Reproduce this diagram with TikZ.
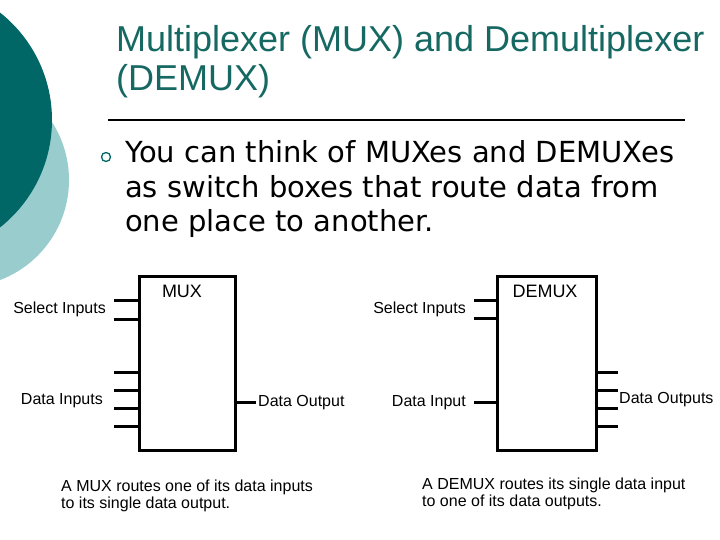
\documentclass[tikz,border=0pt]{standalone}
\usepackage{fontspec}
\setmainfont{Liberation Sans}
\newfontfamily\bodyfont{DejaVu Sans}
\definecolor{darkteal}{RGB}{0,102,102}
\definecolor{lightteal}{RGB}{153,204,204}
\definecolor{titleteal}{RGB}{22,104,98}
\tikzset{
  box/.style={draw, line width=3pt, minimum height=174pt, inner sep=0pt},
  pin/.style={line width=3pt},
  lbl/.style={inner sep=0pt, font=\fontsize{16}{19}\selectfont},
  boxname/.style={inner sep=0pt, font=\fontsize{18}{21}\selectfont},
  titletext/.style={inner sep=0pt, text=titleteal, font=\fontsize{36}{40}\selectfont},
  bodytext/.style={inner sep=0pt, font=\bodyfont\fontsize{29}{34}\selectfont}
}
\begin{document}
\begin{tikzpicture}[x=1pt, y=-1pt]
        \useasboundingbox (0, 0) rectangle (720, 540);
        \clip (0, 0) rectangle (720, 540);
        % circles at the left edge
        \fill[lightteal] (-38, 180) circle (107pt);
        \fill[darkteal] (-85, 120) circle (137pt);
        % title and text
        \node[titletext, anchor=base west] (title1) at (116, 52) {Multiplexer (MUX) and Demultiplexer};
        \node[titletext, anchor=base west] (title2) at (116, 91) {(DEMUX)};
        \draw[line width=1.4pt] (108, 120) -- (685, 120);
        \draw[darkteal, line width=1.3pt] (106, 157) circle (4.5pt);
        \node[bodytext, anchor=base west] (body1) at (125, 163) {You can think of MUXes and DEMUXes};
        \node[bodytext, anchor=base west] (body2) at (125, 198) {as switch boxes that route data from};
        \node[bodytext, anchor=base west] (body3) at (125, 232) {one place to another.};
        % MUX
        \node[box, minimum width=96pt] (mux) at (187, 363) {};
        \node[boxname, anchor=base] (muxname) at (182, 297) {MUX};
        \foreach \y [count=\i] in {300, 319} {
            \coordinate (ms\i) at (114, \y);
            \draw[pin] (ms\i) -- (ms\i -| mux.west);
        }
        \foreach \y [count=\i] in {372, 390, 408, 426} {
            \coordinate (md\i) at (114, \y);
            \draw[pin] (md\i) -- (md\i -| mux.west);
        }
        \coordinate (mo) at (256, 402);
        \draw[pin] (mux.east |- mo) -- (mo);
        \node[lbl, anchor=base east] (muxsel) at (106, 313) {Select Inputs};
        \node[lbl, anchor=base east] (muxdata) at (103, 404) {Data Inputs};
        \node[lbl, anchor=base west] (muxout) at (258, 406) {Data Output};
        \node[lbl, anchor=base west] (muxcap1) at (61, 491) {A MUX routes one of its data inputs};
        \node[lbl, anchor=base west] (muxcap2) at (61, 508) {to its single data output.};
        % DEMUX
        \node[box, minimum width=99pt] (demux) at (546.5, 363) {};
        \node[boxname, anchor=base] (demuxname) at (545, 297) {DEMUX};
        \foreach \y [count=\i] in {300, 318} {
            \coordinate (ds\i) at (474, \y);
            \draw[pin] (ds\i) -- (ds\i -| demux.west);
        }
        \coordinate (di) at (474, 402);
        \draw[pin] (di) -- (di -| demux.west);
        \foreach \y [count=\i] in {372, 390, 408, 426} {
            \coordinate (do\i) at (618, \y);
            \draw[pin] (demux.east |- do\i) -- (do\i);
        }
        \node[lbl, anchor=base east] (demuxsel) at (466, 313) {Select Inputs};
        \node[lbl, anchor=base east] (demuxin) at (466, 406) {Data Input};
        \node[lbl, anchor=base west] (demuxout) at (619, 403) {Data Outputs};
        \node[lbl, anchor=base west] (demuxcap1) at (422, 489) {A DEMUX routes its single data input};
        \node[lbl, anchor=base west] (demuxcap2) at (422, 506) {to one of its data outputs.};
\end{tikzpicture}
\end{document}
